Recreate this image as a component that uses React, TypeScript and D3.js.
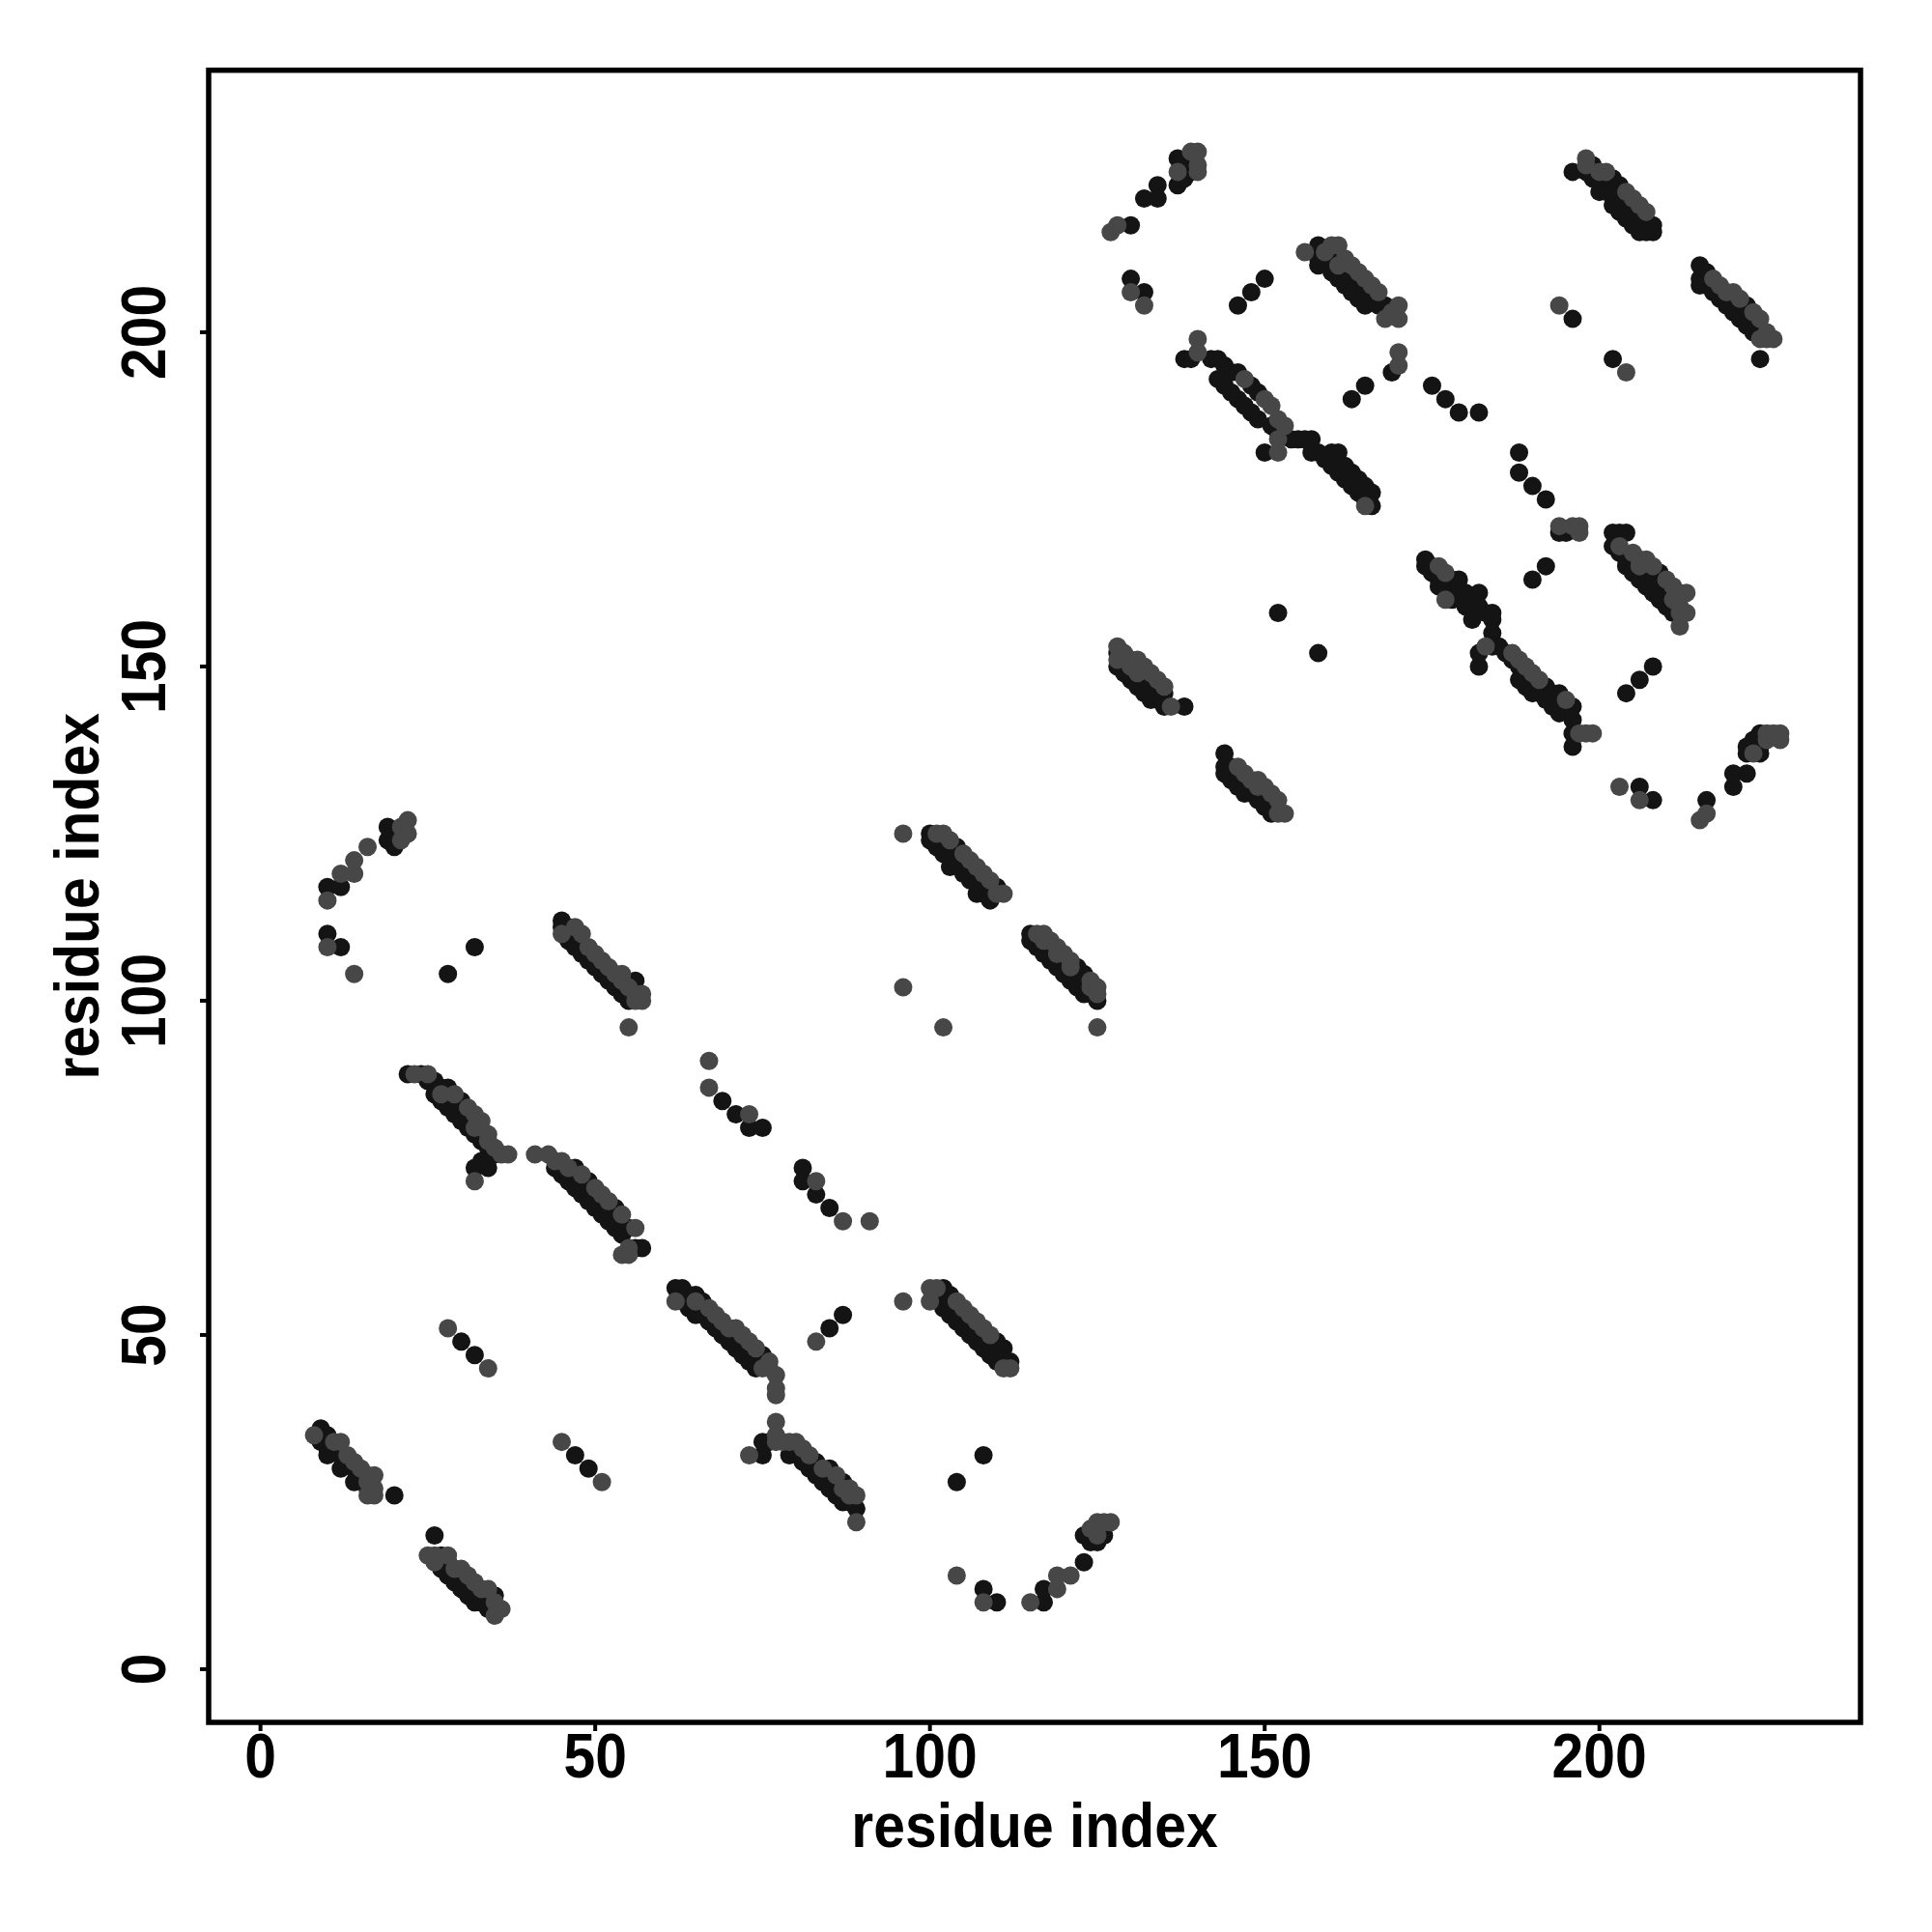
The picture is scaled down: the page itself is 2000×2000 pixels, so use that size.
import React from "react";
import * as d3 from "d3";

// Each point: [residue i, residue j, shade] where shade 0 = grey, 1 = black
type P = [number, number, number];

const strandA: P[] = [[8,35,0],[9,36,1],[9,34,1],[10,35,1],[10,33,1],[10,32,1],[11,34,0],[11,33,1],[12,34,0],[12,32,1],[12,30,1],[13,32,0],[13,31,1],[14,31,0],[14,30,1],[14,28,1],[15,30,0],[15,29,1],[16,29,0],[16,28,0],[16,27,1],[16,26,0],[17,29,0],[17,27,0],[17,26,0],[20,26,1]];
const strandB: P[] = [[26,20,1],[25,17,0],[26,16,0],[26,17,0],[27,17,1],[27,15,1],[28,17,0],[28,16,1],[28,14,1],[29,15,0],[29,13,1],[30,15,0],[30,14,1],[30,12,1],[31,14,0],[31,13,1],[31,11,1],[32,13,0],[32,11,1],[32,10,1],[33,12,0],[33,10,1],[34,12,0],[34,11,1],[34,9,1],[35,11,1],[35,10,0],[35,8,0],[36,9,0]];
const shortDiagLow: P[] = [[28,51,0],[30,49,1],[32,47,1],[34,45,0],[45,34,0],[47,32,1],[49,30,1],[51,28,0]];
const arcTopLeft: P[] = [[10,115,0],[10,117,1],[12,117,1],[12,119,0],[14,119,0],[14,121,0],[16,123,0],[19,124,1],[19,126,1],[20,123,1],[20,125,1],[21,126,0],[22,125,0],[22,127,0],[21,124,0],[10,110,1],[10,108,0],[12,108,1],[14,104,0],[32,108,1],[28,104,1]];
const strandE: P[] = [[45,112,1],[45,111,1],[45,110,0],[46,111,1],[46,110,1],[46,109,1],[47,111,0],[47,109,1],[47,108,1],[48,110,0],[48,108,1],[48,107,1],[49,108,0],[49,107,1],[49,106,1],[50,107,0],[50,105,1],[51,106,0],[51,104,1],[52,105,0],[52,103,1],[53,104,0],[53,102,1],[54,104,0],[54,103,0],[54,101,1],[55,102,0],[55,100,1],[56,103,1],[56,101,0],[56,100,0],[57,101,0],[57,100,0],[55,96,0]];
const strandF: P[] = [[22,89,1],[23,89,0],[24,89,1],[25,89,0],[25,88,1],[26,88,1],[26,86,1],[27,87,1],[27,86,0],[27,85,1],[28,87,1],[28,84,1],[29,86,0],[29,85,1],[29,83,1],[30,85,1],[30,82,1],[31,84,0],[31,82,1],[31,81,1],[32,83,0],[32,81,0],[32,80,1],[33,82,0],[33,79,1],[34,80,0],[34,79,0],[34,78,1],[35,78,0],[35,77,1],[36,77,0],[37,77,0],[32,75,1],[34,75,1],[32,73,0],[33,76,1]];
const strandG: P[] = [[41,77,0],[43,77,0],[44,76,0],[44,75,1],[45,76,0],[45,74,1],[46,75,0],[46,73,1],[47,75,1],[47,72,1],[48,74,0],[48,71,1],[49,73,1],[49,70,1],[50,72,0],[50,69,1],[51,71,0],[51,68,1],[52,70,0],[52,67,1],[53,69,1],[53,66,1],[54,68,0],[54,65,1],[55,66,1],[55,63,0],[56,66,0],[56,63,1],[57,63,1],[54,62,0],[55,62,0]];
const strandH: P[] = [[62,55,0],[62,57,1],[63,57,1],[63,55,1],[64,56,1],[64,54,1],[65,56,1],[65,55,0],[65,53,1],[66,55,1],[66,53,1],[67,54,0],[67,52,1],[68,53,0],[68,51,1],[69,52,0],[69,50,1],[70,51,0],[70,49,1],[71,51,0],[71,49,1],[71,48,1],[72,50,0],[72,47,1],[73,49,0],[73,47,1],[73,46,1],[74,48,0],[74,45,1],[75,47,1],[75,45,0],[76,46,0],[76,45,0],[77,44,0],[77,42,0],[77,41,0],[77,37,0],[77,35,0],[76,34,1],[75,34,1],[73,32,0],[75,32,1],[77,34,0]];
const strandI: P[] = [[78,34,0],[79,34,0],[80,34,0],[79,32,1],[80,33,1],[81,33,0],[81,31,1],[82,32,0],[82,30,1],[83,31,1],[83,29,1],[84,30,0],[84,28,1],[85,30,1],[85,29,1],[85,27,1],[86,29,0],[86,26,1],[87,28,1],[87,27,0],[87,25,1],[88,27,0],[88,26,0],[88,25,1],[89,26,0],[89,24,1],[89,22,0]];
const shortDiagMid: P[] = [[67,91,0],[67,87,0],[69,85,1],[71,83,1],[73,83,0],[73,81,1],[75,81,1],[81,75,1],[81,73,1],[83,73,0],[83,71,1],[85,69,1],[87,67,0],[91,67,0],[83,49,0],[85,51,1],[87,53,1],[96,55,0]];
const strandM: P[] = [[100,57,0],[101,57,0],[100,55,0],[101,56,1],[102,57,1],[102,55,1],[102,54,1],[103,56,1],[103,54,1],[103,53,1],[104,55,0],[104,53,1],[104,52,1],[105,54,0],[105,52,1],[105,51,1],[106,53,0],[106,51,1],[106,50,1],[107,52,0],[107,50,1],[107,49,1],[108,51,0],[108,49,1],[108,48,1],[109,50,0],[109,48,1],[109,47,1],[110,49,1],[110,47,1],[110,46,1],[111,48,1],[111,46,1],[111,45,0],[112,46,1],[112,45,0]];
const arcBottom: P[] = [[108,32,1],[104,28,1],[104,14,0],[108,12,1],[108,10,0],[110,10,1],[115,10,0],[117,10,1],[117,12,1],[119,12,0],[119,14,0],[121,14,0],[123,16,1],[123,20,1],[124,19,1],[124,21,0],[125,19,1],[125,20,0],[125,22,0],[126,22,0],[127,22,0],[126,20,1]];
const strandP: P[] = [[96,125,0],[100,125,1],[101,125,0],[102,125,0],[100,124,1],[101,123,1],[102,122,1],[102,124,1],[103,124,0],[103,122,1],[103,120,1],[104,123,1],[104,121,1],[105,122,0],[105,120,1],[105,119,1],[106,121,0],[106,119,1],[106,118,1],[107,120,0],[107,118,1],[107,116,1],[108,119,0],[108,117,1],[108,116,1],[109,118,0],[109,116,1],[109,115,1],[110,117,1],[110,116,0],[111,116,0],[96,102,0],[102,96,0]];
const strandR: P[] = [[115,110,1],[115,109,1],[116,110,0],[116,108,1],[117,110,0],[117,109,0],[117,107,1],[118,109,0],[118,106,1],[119,108,0],[119,107,0],[119,105,1],[120,107,0],[120,104,1],[121,106,0],[121,105,0],[121,103,1],[122,105,1],[122,102,1],[123,104,1],[123,101,1],[124,103,0],[124,102,0],[124,101,1],[125,102,0],[125,101,0],[125,100,1],[125,96,0]];
const arcTopMid: P[] = [[127,215,0],[128,216,0],[130,216,1],[132,220,1],[134,220,1],[134,222,1],[137,222,1],[137,224,0],[137,226,1],[138,225,1],[138,223,1],[139,227,0],[140,227,0],[140,225,0],[139,224,1],[140,224,0],[130,208,1],[130,206,0],[132,206,1],[132,204,0],[150,208,1],[148,206,1],[146,204,1]];
const strandV: P[] = [[156,212,0],[158,213,1],[158,211,1],[158,210,1],[159,212,0],[160,213,0],[160,211,1],[160,209,1],[161,213,0],[161,210,0],[161,208,1],[162,211,0],[162,209,1],[162,207,1],[163,210,0],[163,208,1],[163,206,1],[164,209,0],[164,207,1],[164,205,1],[165,208,0],[165,206,1],[165,204,1],[166,207,0],[166,205,1],[167,206,0],[167,204,1],[168,204,1],[168,202,0],[169,203,0],[170,204,0],[170,202,0]];
const scatterUpper: P[] = [[170,197,0],[170,195,0],[169,194,1],[165,192,1],[163,190,1],[175,192,1],[177,190,1],[179,188,1],[182,188,1],[152,158,1],[158,152,1],[188,182,1],[188,179,1],[190,177,1],[192,175,1],[192,165,1],[190,163,1],[194,171,0],[195,170,1],[196,171,0],[197,171,0],[197,170,0],[194,170,1],[194,204,0],[196,202,1],[202,196,1],[204,194,0],[208,150,1],[206,148,1],[204,146,1],[203,132,0],[206,132,1],[206,130,0],[208,130,1]];
const strandX: P[] = [[140,199,0],[140,197,0],[138,196,1],[139,196,1],[142,196,1],[143,196,1],[144,195,1],[145,194,1],[146,194,1],[147,193,0],[143,193,1],[144,192,1],[145,191,1],[146,190,1],[147,189,1],[148,192,1],[149,191,1],[150,190,0],[148,188,1],[149,187,1],[151,189,0],[151,186,1],[152,187,0],[152,185,1],[153,186,0],[152,184,0],[150,182,1],[152,182,0],[154,184,1],[155,184,1],[156,184,1],[157,184,1],[158,182,1],[157,182,1],[159,181,1],[160,182,1],[161,182,1],[160,180,1],[161,179,1],[162,180,1],[162,178,1],[163,179,1],[163,177,1],[164,178,1],[164,176,1],[165,177,1],[165,175,1],[166,176,1],[166,174,1],[165,174,0]];
const strandZ: P[] = [[128,153,0],[128,152,1],[128,151,0],[128,150,1],[129,152,0],[129,150,1],[129,149,1],[130,151,0],[130,150,0],[130,148,1],[131,151,0],[131,149,0],[131,147,1],[132,150,0],[132,148,1],[132,146,1],[133,149,0],[133,147,1],[133,145,1],[134,148,0],[134,146,1],[134,145,1],[135,147,0],[135,146,1],[135,144,1],[136,144,0],[138,144,1],[144,137,1],[144,135,1],[144,134,1],[145,135,1],[145,133,1],[146,135,0],[146,134,1],[146,132,1],[147,134,0],[147,132,1],[147,131,1],[148,133,0],[148,131,1],[149,133,0],[149,132,0],[149,130,1],[150,132,0],[150,130,1],[150,129,1],[151,131,0],[151,129,1],[151,128,1],[152,130,0],[152,128,0],[153,128,0]];
const strandAA: P[] = [[196,224,1],[198,226,0],[198,225,0],[198,224,1],[199,225,1],[199,223,1],[200,224,0],[200,223,1],[200,221,1],[201,224,0],[201,222,1],[201,221,1],[202,223,1],[202,221,1],[202,219,1],[203,222,1],[203,220,1],[203,218,1],[204,221,0],[204,219,1],[204,217,1],[205,220,0],[205,218,1],[205,216,1],[206,219,0],[206,217,1],[206,215,1],[207,218,0],[207,216,1],[208,216,1],[208,215,1],[207,215,1]];
const strandCC: P[] = [[215,210,1],[215,208,1],[215,207,1],[216,209,1],[216,207,1],[217,208,0],[217,206,1],[218,207,0],[218,205,1],[219,206,0],[219,204,1],[220,206,0],[220,205,1],[220,203,1],[221,205,0],[221,202,1],[222,204,1],[222,201,1],[223,203,0],[223,200,1],[224,202,0],[224,199,0],[225,200,0],[225,199,0],[226,199,0],[224,196,1]];
const strandDD: P[] = [[174,166,1],[174,165,1],[175,165,1],[175,164,1],[176,165,0],[176,163,1],[176,162,1],[177,164,0],[177,162,1],[177,160,0],[178,163,1],[178,162,1],[178,160,1],[179,163,1],[179,161,1],[180,161,1],[180,159,1],[181,159,1],[181,157,1],[182,161,1],[182,159,1],[183,158,1],[184,158,1],[184,157,1],[184,155,1],[184,153,1],[182,152,1],[182,150,1],[183,153,0],[185,153,1],[186,152,1],[187,152,0],[187,151,1],[188,151,0],[188,150,1],[188,148,1],[189,150,0],[189,149,1],[189,147,1],[190,149,0],[190,148,1],[190,146,1],[191,148,0],[191,146,1],[192,147,1],[192,145,1],[193,146,1],[193,144,1],[194,146,1],[194,145,1],[194,143,1],[195,145,0],[195,144,1],[196,144,1],[196,142,1],[196,140,1],[196,138,1],[197,140,0],[198,140,0],[199,140,0]];
const strandGG: P[] = [[202,170,1],[203,170,1],[204,170,1],[202,168,1],[203,168,0],[203,167,1],[204,166,1],[204,165,1],[205,167,0],[205,166,1],[205,164,1],[206,166,0],[206,165,0],[206,163,1],[207,166,0],[207,164,1],[207,162,1],[208,165,0],[208,163,1],[208,161,1],[209,164,1],[209,162,1],[209,160,1],[210,163,0],[210,161,1],[210,159,1],[211,162,0],[211,160,0],[211,158,1],[212,161,0],[212,159,0],[212,158,0],[213,161,0],[213,158,0],[212,156,0]];
const arcRight: P[] = [[215,127,0],[216,128,0],[216,130,1],[220,132,1],[220,134,1],[222,134,1],[222,137,1],[222,138,1],[223,139,1],[223,137,0],[224,137,1],[224,138,1],[224,140,1],[225,139,0],[225,140,0],[226,140,0],[227,140,0],[227,139,0]];

const xTicks = [0, 50, 100, 150, 200];
const yTicks = [0, 50, 100, 150, 200];
const axisTitle = "residue index";

const allPoints: P[] = [
  ...strandA, ...strandB, ...shortDiagLow, ...arcTopLeft, ...strandE, ...strandF,
  ...strandG, ...strandH, ...strandI, ...shortDiagMid, ...strandM, ...arcBottom,
  ...strandP, ...strandR, ...arcTopMid, ...strandV, ...scatterUpper, ...strandX,
  ...strandZ, ...strandAA, ...strandCC, ...strandDD, ...strandGG, ...arcRight,
];

export default function App() {
  const W = 2000, H = 2000;
  const left = 216, right = 1926, top = 72.7, bottom = 1783;
  const x = d3.scaleLinear().domain([-7.74, 239.0]).range([left, right]);
  const y = d3.scaleLinear().domain([-7.96, 239.2]).range([bottom, top]);
  const shade = d3.scaleOrdinal<number, string>().domain([0, 1]).range(["#474747", "#141414"]);
  // draw black points first, grey ones on top
  const ordered = [...allPoints].sort((a, b) => b[2] - a[2]);
  const font = "'Liberation Sans', Arial, Helvetica, sans-serif";
  const fs = 64;
  const sx = 0.92;
  return (
    <div style={{ position: "absolute", left: 0, top: 0 }}>
      <svg width={W} height={H} viewBox={`0 0 ${W} ${H}`} style={{ display: "block", background: "#fff" }}>
        <rect x={0} y={0} width={W} height={H} fill="#fff" />
        <g>
          {ordered.map((p, i) => (
            <circle key={i} cx={x(p[0])} cy={y(p[1])} r={9.5} fill={shade(p[2])} />
          ))}
        </g>
        <rect x={left} y={top} width={right - left} height={bottom - top} fill="none" stroke="#000" strokeWidth={5.5} />
        {xTicks.map((t) => (
          <g key={"xt" + t}>
            <line x1={x(t)} x2={x(t)} y1={bottom} y2={bottom + 9} stroke="#000" strokeWidth={4} />
            <text transform={`translate(${x(t)},1840) scale(${sx},1)`} textAnchor="middle" fontFamily={font} fontWeight="bold" fontSize={fs}>{t}</text>
          </g>
        ))}
        {yTicks.map((t) => (
          <g key={"yt" + t}>
            <line x1={left - 9} x2={left} y1={y(t)} y2={y(t)} stroke="#000" strokeWidth={4} />
            <text transform={`translate(170.5,${y(t)}) rotate(-90) scale(${sx},1)`} textAnchor="middle" fontFamily={font} fontWeight="bold" fontSize={fs}>{t}</text>
          </g>
        ))}
        <text transform={`translate(${(left + right) / 2},1911.5) scale(${sx},1)`} textAnchor="middle" fontFamily={font} fontWeight="bold" fontSize={fs}>{axisTitle}</text>
        <text transform={`translate(102,${(top + bottom) / 2}) rotate(-90) scale(${sx},1)`} textAnchor="middle" fontFamily={font} fontWeight="bold" fontSize={fs}>{axisTitle}</text>
      </svg>
    </div>
  );
}
